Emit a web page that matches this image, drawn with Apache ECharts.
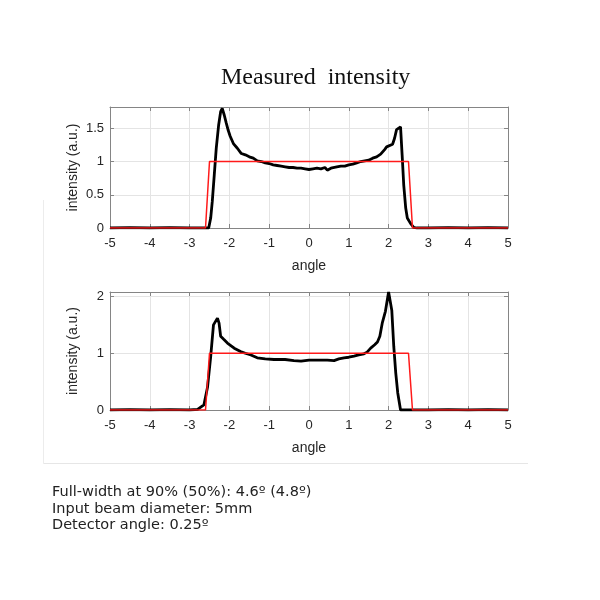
<!DOCTYPE html>
<html>
<head>
<meta charset="utf-8">
<script src="https://cdn.jsdelivr.net/npm/echarts@6/dist/echarts.min.js"></script>
<style>html,body{margin:0;padding:0;background:#fff}#c{width:600px;height:600px}</style>
</head>
<body>
<div id="c"></div>
<script>
var titleText = 'Measured  intensity';
var footerLines = ['Full-width at 90% (50%): 4.6º (4.8º)', 'Input beam diameter: 5mm', 'Detector angle: 0.25º'];
var xTicks = [-5, -4, -3, -2, -1, 0, 1, 2, 3, 4, 5];

var idealAngle = [-5, -2.6, -2.5, 2.5, 2.6, 5];
var idealIntensity = [0, 0, 1, 1, 0, 0];

var topAngle = [-5, -4.5, -4, -3.5, -3, -2.52, -2.47, -2.43, -2.38, -2.33, -2.27, -2.22, -2.18, -2.13, -2.08, -2.03, -1.98, -1.9, -1.8, -1.7, -1.6, -1.5, -1.4, -1.3, -1.2, -1.1, -1.0, -0.9, -0.8, -0.7, -0.6, -0.5, -0.4, -0.3, -0.2, -0.1, 0, 0.1, 0.2, 0.3, 0.4, 0.46, 0.5, 0.55, 0.6, 0.7, 0.8, 0.9, 1.0, 1.1, 1.2, 1.3, 1.4, 1.5, 1.6, 1.7, 1.8, 1.85, 1.9, 1.95, 2.0, 2.1, 2.15, 2.2, 2.25, 2.3, 2.34, 2.38, 2.43, 2.47, 2.55, 2.63, 2.7, 3, 3.5, 4, 4.5, 5];
var topIntensity = [0, 0.005, 0, 0.005, 0, 0, 0.15, 0.4, 0.8, 1.2, 1.55, 1.75, 1.8, 1.7, 1.58, 1.47, 1.38, 1.27, 1.2, 1.12, 1.1, 1.07, 1.05, 1.01, 1.0, 0.98, 0.97, 0.95, 0.94, 0.93, 0.92, 0.91, 0.91, 0.9, 0.9, 0.89, 0.88, 0.89, 0.9, 0.89, 0.91, 0.87, 0.88, 0.9, 0.91, 0.92, 0.93, 0.93, 0.95, 0.96, 0.98, 1.0, 1.01, 1.02, 1.05, 1.07, 1.11, 1.13, 1.18, 1.22, 1.25, 1.26, 1.35, 1.48, 1.5, 1.52, 1.1, 0.65, 0.3, 0.15, 0.07, 0.01, 0, 0, 0.005, 0, 0.005, 0];

var bottomAngle = [-5, -4.5, -4, -3.5, -3, -2.8, -2.64, -2.55, -2.47, -2.4, -2.3, -2.26, -2.22, -2.15, -2.05, -1.88, -1.72, -1.6, -1.46, -1.3, -1.1, -0.88, -0.6, -0.38, -0.2, 0, 0.2, 0.46, 0.63, 0.75, 0.88, 1.0, 1.13, 1.25, 1.38, 1.46, 1.55, 1.65, 1.72, 1.78, 1.84, 1.92, 2.0, 2.08, 2.13, 2.18, 2.23, 2.3, 2.6, 3, 3.5, 4, 4.5, 5];
var bottomIntensity = [0, 0.005, 0, 0.005, 0, 0.01, 0.09, 0.4, 0.94, 1.5, 1.62, 1.53, 1.3, 1.25, 1.18, 1.09, 1.03, 1.0, 0.97, 0.92, 0.9, 0.89, 0.89, 0.87, 0.86, 0.88, 0.88, 0.88, 0.87, 0.9, 0.92, 0.93, 0.95, 0.97, 0.99, 1.02, 1.09, 1.15, 1.2, 1.3, 1.53, 1.74, 2.08, 1.76, 1.12, 0.65, 0.3, 0, 0, 0, 0.005, 0, 0.005, 0];

function pairs(xs, ys) { return xs.map(function (x, i) { return [x, ys[i]]; }); }

var tickFont = { fontFamily: 'Liberation Sans', fontSize: 13, color: '#262626' };
var axisGray = '#858585';
var gridGray = '#e4e4e4';

function xAxisPair(gi) {
  return [{
    type: 'value', gridIndex: gi, min: -5, max: 5, interval: 1, position: 'bottom',
    name: 'angle', nameLocation: 'middle', nameGap: 31,
    nameTextStyle: { fontFamily: 'Liberation Sans', fontSize: 14, color: '#262626' },
    axisLine: { show: true, onZero: false, lineStyle: { color: axisGray } },
    axisTick: { show: true, inside: true, length: 4, lineStyle: { color: axisGray } },
    axisLabel: Object.assign({ margin: 9 }, tickFont),
    splitLine: { show: true, lineStyle: { color: gridGray } }
  }, {
    type: 'value', gridIndex: gi, min: -5, max: 5, interval: 1, position: 'top',
    axisLine: { show: true, onZero: false, lineStyle: { color: axisGray } },
    axisTick: { show: true, inside: true, length: 4, lineStyle: { color: axisGray } },
    axisLabel: { show: false }, splitLine: { show: false }
  }];
}
function yAxisPair(gi, max, interval) {
  return [{
    type: 'value', gridIndex: gi, min: 0, max: max, interval: interval, position: 'left',
    name: 'intensity (a.u.)', nameLocation: 'middle', nameGap: 30, nameMoveOverlap: false,
    nameTextStyle: { fontFamily: 'Liberation Sans', fontSize: 14, color: '#262626' },
    axisLine: { show: true, onZero: false, lineStyle: { color: axisGray } },
    axisTick: { show: true, inside: true, length: 4, lineStyle: { color: axisGray } },
    axisLabel: Object.assign({ margin: 6, showMaxLabel: false }, tickFont),
    splitLine: { show: true, lineStyle: { color: gridGray } }
  }, {
    type: 'value', gridIndex: gi, min: 0, max: max, interval: interval, position: 'right',
    axisLine: { show: true, onZero: false, lineStyle: { color: axisGray } },
    axisTick: { show: true, inside: true, length: 4, lineStyle: { color: axisGray } },
    axisLabel: { show: false }, splitLine: { show: false }
  }];
}

var chart = echarts.init(document.getElementById('c'), null, { renderer: 'canvas' });
chart.setOption({
  animation: false,
  backgroundColor: '#fff',
  title: [{
    text: titleText, left: 221, top: 66, padding: 0,
    textStyle: { fontFamily: 'Liberation Serif', fontSize: 24, fontWeight: 'normal', color: '#111' }
  }, {
    text: footerLines.join('\n'), left: 52, top: 484, padding: 0,
    textStyle: { fontFamily: 'DejaVu Sans', fontSize: 14.5, fontWeight: 'normal', color: '#222', lineHeight: 16.5 }
  }],
  graphic: [
    { type: 'line', shape: { x1: 43.5, y1: 200, x2: 43.5, y2: 463.5 }, style: { stroke: '#ececec', lineWidth: 1 } },
    { type: 'line', shape: { x1: 43.5, y1: 463.5, x2: 528, y2: 463.5 }, style: { stroke: '#e6e6e6', lineWidth: 1 } }
  ],
  grid: [
    { left: 110, width: 398, top: 107, height: 121 },
    { left: 110, width: 398, top: 292, height: 118 }
  ],
  xAxis: xAxisPair(0).concat(xAxisPair(1)),
  yAxis: yAxisPair(0, 1.82, 0.5).concat(yAxisPair(1, 2.08, 1)),
  series: [
    { type: 'line', xAxisIndex: 0, yAxisIndex: 0, data: pairs(idealAngle, idealIntensity), symbol: 'none', lineStyle: { color: '#ff1a1a', width: 1.5 }, z: 3 },
    { type: 'line', xAxisIndex: 0, yAxisIndex: 0, data: pairs(topAngle, topIntensity), symbol: 'none', lineStyle: { color: '#000', width: 2.8 }, z: 2 },
    { type: 'line', xAxisIndex: 2, yAxisIndex: 2, data: pairs(idealAngle, idealIntensity), symbol: 'none', lineStyle: { color: '#ff1a1a', width: 1.5 }, z: 3 },
    { type: 'line', xAxisIndex: 2, yAxisIndex: 2, data: pairs(bottomAngle, bottomIntensity), symbol: 'none', lineStyle: { color: '#000', width: 2.8 }, z: 2 }
  ]
});
</script>
</body>
</html>
